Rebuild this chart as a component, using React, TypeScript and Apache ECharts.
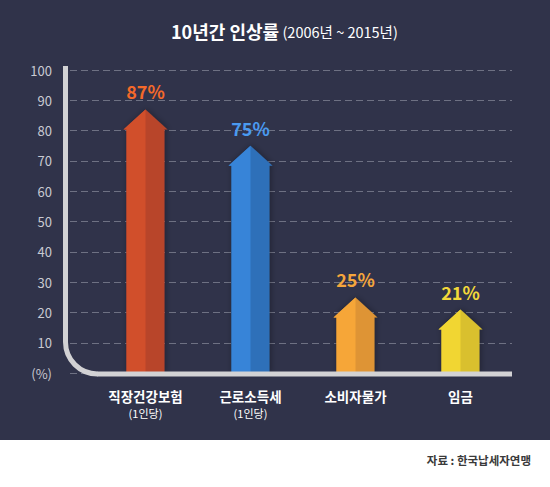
import React, { useEffect, useRef } from "react";
import * as echarts from "echarts";

const categories = ["직장건강보험", "근로소득세", "소비자물가", "임금"];
const subLabels = ["(1인당)", "(1인당)", "", ""];
const values = [87, 75, 25, 21];
const yTicks = [0, 10, 20, 30, 40, 50, 60, 70, 80, 90, 100];
const lightColors = ["#d14f2b", "#3784d8", "#f6a638", "#f1d632"];
const darkColors = ["#b8452a", "#2f70b9", "#de9434", "#d9c02e"];
const labelColors = ["#f4692a", "#4a9af0", "#f5a63c", "#f3d93a"];

const FONT = "'Noto Sans CJK KR', 'Noto Sans', sans-serif";

export default function App() {
  const ref = useRef<HTMLDivElement>(null);
  useEffect(() => {
    if (!ref.current) return;
    const chart = echarts.init(ref.current, undefined, { renderer: "svg" });
    const top = 70;
    const bottom = 487 - 373.3;
    chart.setOption({
      animation: false,
      backgroundColor: "#ffffff",
      textStyle: { fontFamily: FONT },
      graphic: [
        { type: "rect", z: -10, shape: { x: 0, y: 0, width: 550, height: 440 }, style: { fill: "#30334a" } },
        {
          type: "text",
          left: 171,
          top: 22,
          style: {
            text: "{a|10년간 인상률} {b|(2006년 ~ 2015년)}",
            rich: {
              a: { fontSize: 18, fontWeight: "bold", fill: "#ffffff", fontFamily: FONT },
              b: { fontSize: 14.5, fill: "#ffffff", fontFamily: FONT },
            },
          },
        },
        {
          type: "line",
          z: 5,
          shape: { x1: 65.5, y1: 66, x2: 65.5, y2: 342 },
          style: { stroke: "#d2d2d4", lineWidth: 5 },
        },
        {
          type: "arc",
          z: 5,
          shape: { cx: 97.5, cy: 342, r: 32, startAngle: Math.PI / 2, endAngle: Math.PI, clockwise: true },
          style: { stroke: "#d2d2d4", lineWidth: 5, fill: null },
        },
        {
          type: "line",
          z: 5,
          shape: { x1: 97, y1: 374, x2: 512, y2: 374 },
          style: { stroke: "#d2d2d4", lineWidth: 5 },
        },
        {
          type: "text",
          right: 19,
          top: 454,
          style: { text: "자료 : 한국납세자연맹", fontSize: 11.5, fontWeight: "bold", fill: "#3a3a3a", fontFamily: FONT },
        },
      ],
      grid: [
        { left: 70, right: 38, top, bottom },
        { left: 93, right: 37, top, bottom },
      ],
      xAxis: [
        { gridIndex: 0, type: "value", show: false, min: 0, max: 1 },
        {
          gridIndex: 1,
          type: "category",
          data: categories,
          axisLine: { show: false },
          axisTick: { show: false },
          axisLabel: {
            margin: 14,
            interval: 0,
            formatter: (v: string, i: number) =>
              subLabels[i] ? `{a|${v}}\n{b|${subLabels[i]}}` : `{a|${v}}`,
            rich: {
              a: { fontSize: 13.5, fontWeight: "bold", color: "#ffffff", lineHeight: 18, fontFamily: FONT },
              b: { fontSize: 11, color: "#ffffff", lineHeight: 15, fontFamily: FONT },
            },
          },
        },
      ],
      yAxis: [
        {
          gridIndex: 0,
          type: "value",
          min: yTicks[0],
          max: yTicks[yTicks.length - 1],
          interval: 10,
          axisLine: { show: false },
          axisTick: { show: false },
          axisLabel: {
            margin: 18,
            fontSize: 13,
            color: "#c9cad2",
            fontFamily: FONT,
            formatter: (v: number) => (v === 0 ? "(%)" : String(v)),
          },
          splitLine: { lineStyle: { color: "#6e7183", type: [7, 4], width: 1 } },
        },
        {
          gridIndex: 1,
          type: "value",
          min: yTicks[0],
          max: yTicks[yTicks.length - 1],
          interval: 10,
          show: false,
          splitLine: { show: false },
        },
      ],
      series: [
        {
          type: "custom",
          xAxisIndex: 1,
          yAxisIndex: 1,
          z: 3,
          data: values.map((v, i) => [i, v]),
          renderItem: (params: any, api: any) => {
            const idx = api.value(0);
            const val = api.value(1);
            const apex = api.coord([idx, val]);
            const base = api.coord([idx, 0]);
            const cx = apex[0];
            const ay = apex[1];
            const by = base[1];
            const bodyHalf = 19;
            const headHalf = 22;
            const headH = 20;
            const hy = ay + headH;
            return {
              type: "group",
              children: [
                {
                  type: "polygon",
                  shape: {
                    points: [
                      [cx, ay],
                      [cx + headHalf, hy],
                      [cx + bodyHalf, hy],
                      [cx + bodyHalf, by],
                      [cx - bodyHalf, by],
                      [cx - bodyHalf, hy],
                      [cx - headHalf, hy],
                    ],
                  },
                  style: { fill: darkColors[idx], shadowBlur: 6, shadowColor: "rgba(0,0,0,0.35)", shadowOffsetX: 1 },
                },
                {
                  type: "polygon",
                  shape: {
                    points: [
                      [cx, ay],
                      [cx, by],
                      [cx - bodyHalf, by],
                      [cx - bodyHalf, hy],
                      [cx - headHalf, hy],
                    ],
                  },
                  style: { fill: lightColors[idx] },
                },
                {
                  type: "text",
                  x: cx,
                  y: ay - 18,
                  style: {
                    text: val + "%",
                    fontSize: 18,
                    fontWeight: "bold",
                    fill: labelColors[idx],
                    align: "center",
                    verticalAlign: "middle",
                    fontFamily: FONT,
                  },
                },
              ],
            };
          },
        },
      ],
    });
    return () => chart.dispose();
  }, []);
  return (
    <div
      ref={ref}
      style={{ position: "absolute", left: 0, top: 0, width: 550, height: 487 }}
    />
  );
}
